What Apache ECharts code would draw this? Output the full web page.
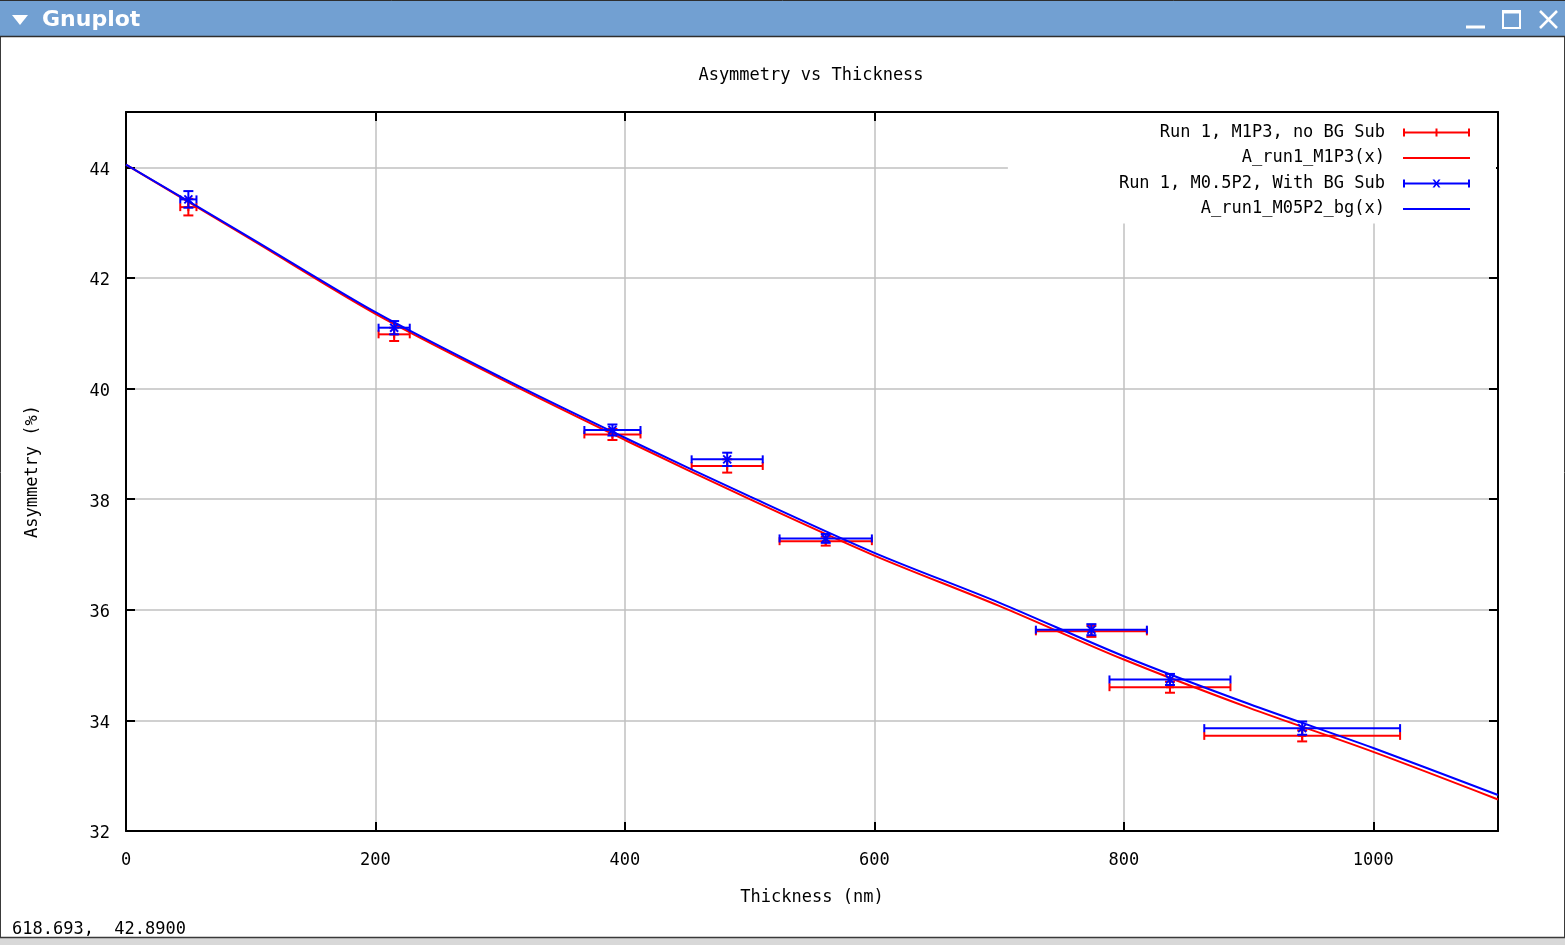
<!DOCTYPE html>
<html>
<head>
<meta charset="utf-8">
<title>Asymmetry vs Thickness</title>
<script src="https://cdn.jsdelivr.net/npm/echarts@6/dist/echarts.min.js"></script>
<style>
  html, body { margin: 0; padding: 0; background: #ffffff; }
  #chart { width: 1565px; height: 945px; }
</style>
</head>
<body>
<div id="chart"></div>
<script>
// Measured samples: film thickness (nm) with its uncertainty
const thickness    = [50, 215, 390, 482, 561, 774, 837, 943];
const thicknessErr = [6.5, 12.5, 22.5, 28.5, 37, 44.5, 48.5, 78.5];

// Run 1, M1P3, no background subtraction
const asymNoBg    = [43.28, 40.98, 39.17, 38.60, 37.24, 35.61, 34.60, 33.72];
const asymNoBgErr = [0.15, 0.12, 0.10, 0.12, 0.08, 0.10, 0.10, 0.10];

// Run 1, M0.5P2, with background subtraction
const asymBg    = [43.42, 41.10, 39.25, 38.72, 37.29, 35.64, 34.74, 33.86];
const asymBgErr = [0.15, 0.12, 0.10, 0.12, 0.08, 0.10, 0.10, 0.12];

// Fitted curves, sampled along the thickness axis
const fitX    = [0, 100, 200, 300, 400, 500, 600, 700, 800, 900, 1000, 1100];
const fitNoBg = [44.05, 42.70, 41.35, 40.18, 39.07, 38.00, 36.98, 36.07, 35.10, 34.23, 33.43, 32.57];
const fitBg   = [44.05, 42.72, 41.38, 40.21, 39.11, 38.05, 37.03, 36.13, 35.16, 34.30, 33.50, 32.65];

const seriesNames = ['Run 1, M1P3, no BG Sub', 'A_run1_M1P3(x)', 'Run 1, M0.5P2, With BG Sub', 'A_run1_M05P2_bg(x)'];

const RED = '#ff0000';
const BLUE = '#0000ff';
const MONO = '"DejaVu Sans Mono", "Liberation Mono", monospace';

function zip(xs, ys, xe, ye) {
  return xs.map((x, i) => [x, ys[i], xe[i], ye[i]]);
}

// x/y error bars with end caps and a small point marker in the middle
function errorBars(color, marker) {
  return function (params, api) {
    const x = api.value(0), y = api.value(1), dx = api.value(2), dy = api.value(3);
    const c = api.coord([x, y]);
    const l = api.coord([x - dx, y]);
    const r = api.coord([x + dx, y]);
    const t = api.coord([x, y + dy]);
    const b = api.coord([x, y - dy]);
    const capX = 4, capY = 5, m = 4;
    const style = { stroke: color, lineWidth: 2, fill: null };
    const seg = (x1, y1, x2, y2) => ({ type: 'line', shape: { x1, y1, x2, y2 }, style });
    const children = [
      seg(l[0], c[1], r[0], c[1]),
      seg(l[0], c[1] - capX, l[0], c[1] + capX),
      seg(r[0], c[1] - capX, r[0], c[1] + capX),
      seg(c[0], t[1], c[0], b[1]),
      seg(c[0] - capY, t[1], c[0] + capY, t[1]),
      seg(c[0] - capY, b[1], c[0] + capY, b[1])
    ];
    if (marker === 'plus') {
      children.push(seg(c[0] - m, c[1], c[0] + m, c[1]));
      children.push(seg(c[0], c[1] - m, c[0], c[1] + m));
    } else {
      children.push(seg(c[0] - m, c[1] - m, c[0] + m, c[1] + m));
      children.push(seg(c[0] - m, c[1] + m, c[0] + m, c[1] - m));
    }
    return { type: 'group', children };
  };
}

// Legend samples (67 px wide): error bar with caps, and a plain line
const iconPlus  = 'path://M0 3H67V5H0Z M0 0H2V8H0Z M65 0H67V8H65Z M32.5 0H34.5V8H32.5Z';
const iconCross = 'path://M0 3H67V5H0Z M0 0H2V8H0Z M65 0H67V8H65Z M29.5 0L31.5 0L37.5 8L35.5 8Z M35.5 0L37.5 0L31.5 8L29.5 8Z';
const iconLine  = 'path://M0 0H67V2H0Z';

const chart = echarts.init(document.getElementById('chart'), null, { renderer: 'canvas' });

const axisCommon = {
  type: 'value',
  axisLine: { show: true, onZero: false, lineStyle: { color: '#000', width: 2 } },
  axisTick: { show: true, inside: true, length: 9, lineStyle: { color: '#000', width: 2 } }
};

chart.setOption({
  animation: false,
  backgroundColor: '#ffffff',
  textStyle: { fontFamily: MONO },
  grid: { left: 126, right: 67, top: 112, bottom: 114, outerBoundsMode: 'none', containLabel: false },
  legend: {
    orient: 'vertical',
    align: 'right',
    right: 69,
    top: 113,
    padding: [9, 26, 4, 111],
    backgroundColor: '#ffffff',
    itemWidth: 67,
    itemHeight: 10,
    itemGap: 4.5,
    selectedMode: false,
    textStyle: { color: '#000', fontFamily: MONO, fontSize: 17, lineHeight: 17, padding: [4, 13, 0, 0] },
    data: [
      { name: seriesNames[0], icon: iconPlus },
      { name: seriesNames[1], icon: iconLine },
      { name: seriesNames[2], icon: iconCross },
      { name: seriesNames[3], icon: iconLine }
    ]
  },
  xAxis: [
    Object.assign({}, axisCommon, {
      position: 'bottom',
      min: 0, max: 1100, interval: 200,
      name: 'Thickness (nm)',
      nameLocation: 'middle',
      nameGap: 58,
      nameTextStyle: { color: '#000', fontFamily: MONO, fontSize: 17 },
      axisLabel: { color: '#000', fontFamily: MONO, fontSize: 17, margin: 21, showMaxLabel: false, formatter: v => String(v) },
      splitLine: { show: true, lineStyle: { color: '#c0c0c0', width: 1.5 } }
    }),
    Object.assign({}, axisCommon, {
      position: 'top',
      min: 0, max: 1100, interval: 200,
      axisLabel: { show: false },
      splitLine: { show: false }
    })
  ],
  yAxis: [
    Object.assign({}, axisCommon, {
      position: 'left',
      min: 32, max: 45, interval: 2,
      name: 'Asymmetry (%)',
      nameLocation: 'middle',
      nameRotate: 90,
      nameGap: 85,
      nameTextStyle: { color: '#000', fontFamily: MONO, fontSize: 17 },
      axisLabel: {
        color: '#000', fontFamily: MONO, fontSize: 17, margin: 16, showMaxLabel: false,
        formatter: v => '{t|' + v + '}',
        rich: { t: { color: '#000', fontFamily: MONO, fontSize: 17, padding: [6, 0, 0, 0] } }
      },
      splitLine: { show: true, lineStyle: { color: '#c0c0c0', width: 1.5 } }
    }),
    Object.assign({}, axisCommon, {
      position: 'right',
      min: 32, max: 45, interval: 2,
      axisLabel: { show: false },
      splitLine: { show: false }
    })
  ],
  series: [
    {
      name: seriesNames[0],
      type: 'custom',
      color: RED,
      itemStyle: { color: RED },
      encode: { x: 0, y: 1 },
      renderItem: errorBars(RED, 'plus'),
      data: zip(thickness, asymNoBg, thicknessErr, asymNoBgErr),
      z: 3
    },
    {
      name: seriesNames[1],
      type: 'line',
      color: RED,
      symbol: 'none',
      smooth: 0.3,
      lineStyle: { color: RED, width: 2 },
      data: fitX.map((x, i) => [x, fitNoBg[i]]),
      z: 3
    },
    {
      name: seriesNames[2],
      type: 'custom',
      color: BLUE,
      itemStyle: { color: BLUE },
      encode: { x: 0, y: 1 },
      renderItem: errorBars(BLUE, 'cross'),
      data: zip(thickness, asymBg, thicknessErr, asymBgErr),
      z: 4
    },
    {
      name: seriesNames[3],
      type: 'line',
      color: BLUE,
      symbol: 'none',
      smooth: 0.3,
      lineStyle: { color: BLUE, width: 2 },
      data: fitX.map((x, i) => [x, fitBg[i]]),
      z: 4
    }
  ],
  graphic: [
    // window frame
    { type: 'rect', shape: { x: 0.5, y: 0.5, width: 1564, height: 944 }, style: { fill: null, stroke: '#3a3a3a', lineWidth: 1 }, z: 100 },
    // title bar
    { type: 'rect', shape: { x: 0, y: 0, width: 1565, height: 36 }, style: { fill: '#72a0d2' }, z: 100 },
    { type: 'line', shape: { x1: 0, y1: 36.5, x2: 1565, y2: 36.5 }, style: { stroke: '#2e2e2e', lineWidth: 1.5 }, z: 100 },
    { type: 'line', shape: { x1: 0, y1: 0.5, x2: 1565, y2: 0.5 }, style: { stroke: '#2e2e2e', lineWidth: 1 }, z: 101 },
    { type: 'polygon', shape: { points: [[12, 15], [28, 15], [20, 25]] }, style: { fill: '#ffffff' }, z: 101 },
    { type: 'text', x: 42, y: 20, style: { text: 'Gnuplot', fill: '#ffffff', font: 'bold 22px "DejaVu Sans", sans-serif', textVerticalAlign: 'middle', verticalAlign: 'middle' }, z: 101 },
    { type: 'line', shape: { x1: 1466, y1: 27, x2: 1485, y2: 27 }, style: { stroke: '#ffffff', lineWidth: 3 }, z: 101 },
    { type: 'rect', shape: { x: 1503, y: 11, width: 17, height: 17 }, style: { fill: null, stroke: '#ffffff', lineWidth: 2 }, z: 101 },
    { type: 'line', shape: { x1: 1503, y1: 12, x2: 1520, y2: 12 }, style: { stroke: '#ffffff', lineWidth: 3 }, z: 101 },
    { type: 'line', shape: { x1: 1540, y1: 11, x2: 1557, y2: 28 }, style: { stroke: '#ffffff', lineWidth: 2.5 }, z: 101 },
    { type: 'line', shape: { x1: 1557, y1: 11, x2: 1540, y2: 28 }, style: { stroke: '#ffffff', lineWidth: 2.5 }, z: 101 },
    // plot title
    { type: 'text', x: 811, y: 76, style: { text: 'Asymmetry vs Thickness', fill: '#000', font: '17px ' + MONO, textAlign: 'center', align: 'center', verticalAlign: 'middle', textVerticalAlign: 'middle' }, z: 50 },
    // status line with cursor coordinates
    { type: 'text', x: 12, y: 930, style: { text: '618.693,  42.8900', fill: '#000', font: '17px ' + MONO, verticalAlign: 'middle', textVerticalAlign: 'middle' }, z: 50 },
    { type: 'rect', shape: { x: 0, y: 938, width: 1565, height: 7 }, style: { fill: '#d8d8d8' }, z: 100 },
    { type: 'line', shape: { x1: 0, y1: 937.5, x2: 1565, y2: 937.5 }, style: { stroke: '#3a3a3a', lineWidth: 1.5 }, z: 101 }
  ]
});
</script>
</body>
</html>
